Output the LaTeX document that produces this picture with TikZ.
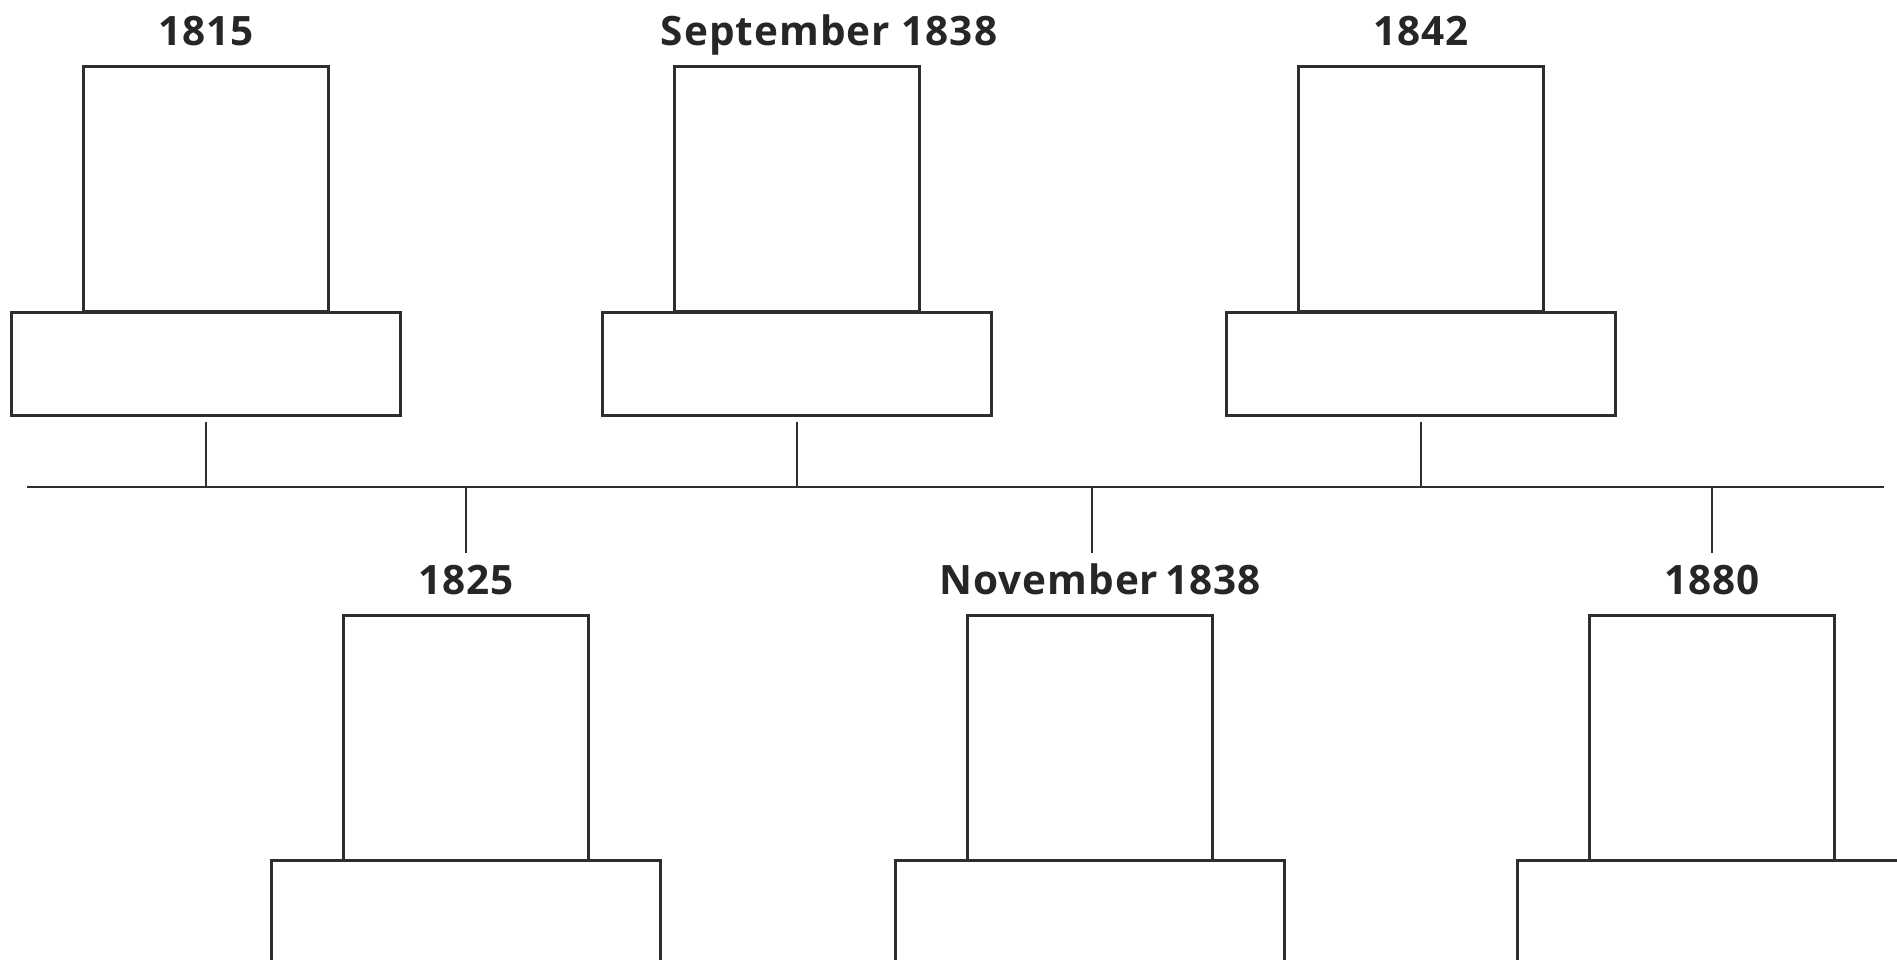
\documentclass[tikz,border=0pt]{standalone}
\usepackage{fontspec}
\setsansfont{Open Sans}[LetterSpace=2.5]
\usepackage{tikz}
\usetikzlibrary{positioning}
\definecolor{ink}{HTML}{2E2E2E}
\definecolor{dateink}{HTML}{262626}

\begin{document}
\begin{tikzpicture}[x=1pt, y=-1pt,
  line width=2.2pt, draw=ink,
  photo/.style={rectangle, draw=ink, minimum width=245pt, minimum height=245pt,
                inner sep=0pt, outer sep=0pt},
  caption/.style={rectangle, draw=ink, minimum width=389pt, minimum height=103pt,
                  inner sep=0pt, outer sep=0pt},
  date/.style={anchor=base, inner sep=0pt, text=dateink,
               font=\sffamily\bfseries\fontsize{40.5}{48}\selectfont},
  tick/.style={draw=ink, line width=2.2pt}]

  \useasboundingbox (0,0) rectangle (1897,960);
  \clip (0,0) rectangle (1897,960);

  % axis
  \coordinate (axL) at (27,487);
  \coordinate (axR) at (1884,487);
  \draw[tick] (axL) -- (axR);

  % top row
  \node[photo] (sq1815) at (206,189) {};
  \node[caption, below=1pt of sq1815] (cap1815) {};
  \node[date] (lbl1815) at ([yshift=21pt]sq1815.north) {1815};
  \coordinate (ax1815) at (206,487);

  \node[photo] (sqsep) at (797,189) {};
  \node[caption, below=1pt of sqsep] (capsep) {};
  \node[date] (lblsep) at ([xshift=32pt,yshift=21pt]sqsep.north) {September 1838};
  \coordinate (axsep) at (797,487);

  \node[photo] (sq1842) at (1421,189) {};
  \node[caption, below=1pt of sq1842] (cap1842) {};
  \node[date] (lbl1842) at ([yshift=21pt]sq1842.north) {1842};
  \coordinate (ax1842) at (1421,487);

  % bottom row
  \node[photo] (sq1825) at (466,738) {};
  \node[caption, below=0pt of sq1825] (cap1825) {};
  \node[date] (lbl1825) at ([yshift=21pt]sq1825.north) {1825};
  \coordinate (ax1825) at (466,487);
  \coordinate (end1825) at (466,553);

  \node[photo] (sqnov) at (1090,738) {};
  \node[caption, below=0pt of sqnov] (capnov) {};
  \node[date] (lblnov) at ([xshift=10pt,yshift=21pt]sqnov.north) {November\,1838};
  \coordinate (axnov) at (1092,487);
  \coordinate (endnov) at (1092,553);

  \node[photo] (sq1880) at (1712,738) {};
  \node[caption, below=0pt of sq1880] (cap1880) {};
  \node[date] (lbl1880) at ([yshift=21pt]sq1880.north) {1880};
  \coordinate (ax1880) at (1712,487);
  \coordinate (end1880) at (1712,553);

  % ticks
  \draw[tick] ([yshift=-6pt]cap1815.south) -- (ax1815);
  \draw[tick] ([yshift=-6pt]capsep.south) -- (axsep);
  \draw[tick] ([yshift=-6pt]cap1842.south) -- (ax1842);
  \draw[tick] (ax1825) -- (end1825);
  \draw[tick] (axnov) -- (endnov);
  \draw[tick] (ax1880) -- (end1880);
\end{tikzpicture}
\end{document}
